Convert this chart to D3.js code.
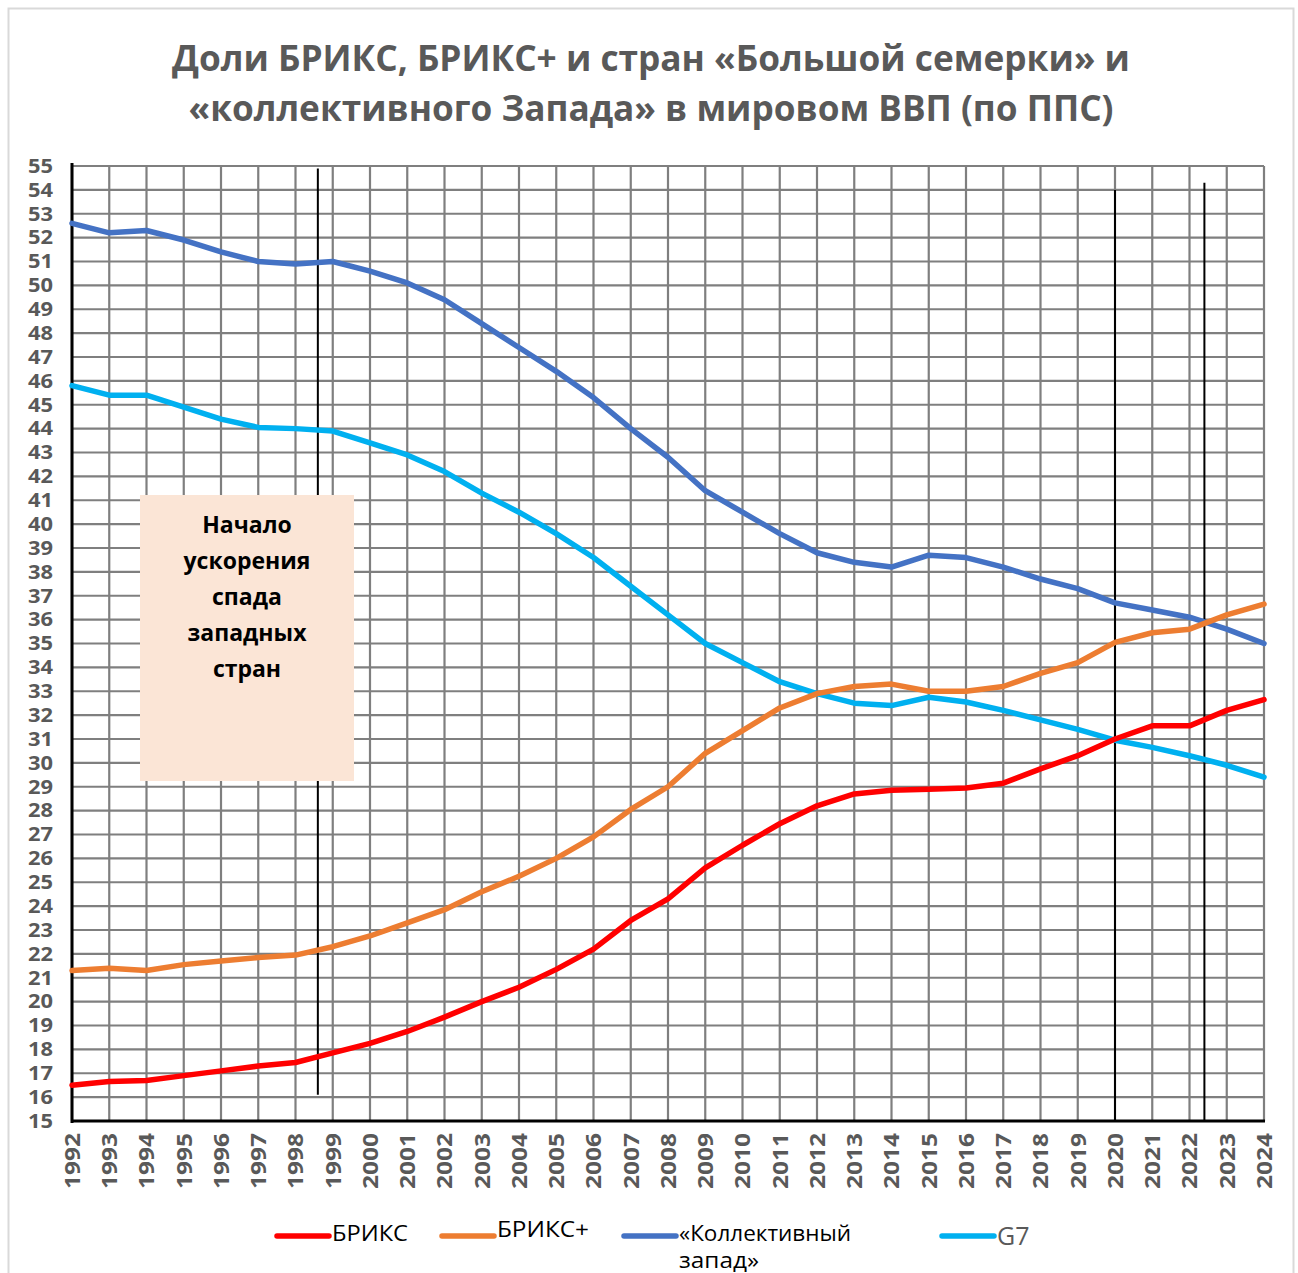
<!DOCTYPE html>
<html>
<head>
<meta charset="utf-8">
<script src="https://cdn.jsdelivr.net/npm/d3@7"></script>
<style>
  body { margin: 0; background: #fff; }
  text { font-family: "Open Sans", "DejaVu Sans", sans-serif; }
</style>
</head>
<body>
<svg id="chart" width="1298" height="1273"></svg>
<script>
// years on x axis
var years = d3.range(1992, 2025);
// shares in world GDP (PPP), %
var bricsVals = [16.5,16.65,16.7,16.9,17.1,17.3,17.45,17.85,18.25,18.75,19.35,20.0,20.6,21.35,22.2,23.4,24.3,25.6,26.55,27.45,28.2,28.7,28.85,28.9,28.95,29.15,29.75,30.3,31.0,31.55,31.55,32.2,32.65];
var bricsPlusVals = [21.3,21.4,21.3,21.55,21.7,21.85,21.95,22.3,22.75,23.3,23.85,24.6,25.25,26.0,26.9,28.05,29.0,30.4,31.35,32.3,32.9,33.2,33.3,33.0,33.0,33.2,33.75,34.2,35.05,35.45,35.6,36.2,36.65];
var westVals = [52.6,52.2,52.3,51.9,51.4,51.0,50.9,51.0,50.6,50.1,49.4,48.4,47.4,46.4,45.3,44.0,42.8,41.4,40.5,39.6,38.8,38.4,38.2,38.7,38.6,38.2,37.7,37.3,36.7,36.4,36.1,35.6,35.0];
var g7Vals = [45.8,45.4,45.4,44.9,44.4,44.05,44.0,43.9,43.4,42.9,42.2,41.3,40.5,39.6,38.6,37.4,36.2,35.0,34.2,33.4,32.9,32.5,32.4,32.75,32.55,32.2,31.8,31.4,30.95,30.65,30.3,29.9,29.4];
var yTicks = d3.range(15, 56);
// marker lines (year positions)
var markYears = [1998.6, 2020.0, 2022.4];

var svg = d3.select("#chart");

// outer frame
svg.append("rect").attr("x", 8.5).attr("y", 8.5).attr("width", 1285).attr("height", 1270)
  .attr("fill", "#fff").attr("stroke", "#d9d9d9").attr("stroke-width", 2);

// title
var title = ["Доли БРИКС, БРИКС+ и стран «Большой семерки» и", "«коллективного  Запада» в мировом ВВП (по ППС)"];
var titleLen = [958, 925];
svg.selectAll(".title").data(title).enter().append("text")
  .attr("class", "title")
  .attr("x", 651).attr("y", function(d, i) { return 71 + i * 50; })
  .attr("text-anchor", "middle")
  .attr("font-size", 35).attr("font-weight", "bold").attr("fill", "#595959")
  .attr("textLength", function(d, i) { return titleLen[i]; })
  .attr("lengthAdjust", "spacingAndGlyphs")
  .text(function(d) { return d; });

var x = d3.scaleLinear().domain([1992, 2024]).range([72, 1264]);
var y = d3.scaleLinear().domain([15, 55]).range([1121, 166]);

// grid
var g = svg.append("g");
g.selectAll(".hg").data(yTicks).enter().append("line")
  .attr("x1", x(1992)).attr("x2", x(2024))
  .attr("y1", function(d) { return y(d); }).attr("y2", function(d) { return y(d); })
  .attr("stroke", "#7f7f7f").attr("stroke-width", 2.2);
g.selectAll(".vg").data(years).enter().append("line")
  .attr("x1", function(d) { return x(d); }).attr("x2", function(d) { return x(d); })
  .attr("y1", y(55)).attr("y2", y(15))
  .attr("stroke", "#7f7f7f").attr("stroke-width", 2.2);

// axis lines
svg.append("line").attr("x1", x(1992)).attr("x2", x(1992)).attr("y1", y(55) - 3).attr("y2", y(15) + 2)
  .attr("stroke", "#000").attr("stroke-width", 3);
svg.append("line").attr("x1", x(1992) - 1).attr("x2", x(2024) + 1).attr("y1", y(15)).attr("y2", y(15))
  .attr("stroke", "#000").attr("stroke-width", 3);

// y labels
svg.selectAll(".yl").data(yTicks).enter().append("text")
  .attr("x", 53).attr("y", function(d) { return y(d); })
  .attr("dy", "0.36em").attr("text-anchor", "end")
  .attr("font-size", 19).attr("font-weight", "bold").attr("fill", "#595959")
  .attr("textLength", 25).attr("lengthAdjust", "spacingAndGlyphs")
  .text(function(d) { return d; });

// x labels
svg.selectAll(".xl").data(years).enter().append("text")
  .attr("transform", function(d) { return "translate(" + x(d) + ",1133) rotate(-90)"; })
  .attr("dy", "0.36em").attr("text-anchor", "end")
  .attr("font-size", 22).attr("font-weight", "bold").attr("fill", "#595959")
  .attr("textLength", 56).attr("lengthAdjust", "spacingAndGlyphs")
  .text(function(d) { return d; });

// vertical marker lines
var markTop = [54.9, 54.0, 54.3];
var markBottom = [16.1, 15, 15];
svg.selectAll(".mk").data(markYears).enter().append("line")
  .attr("x1", function(d) { return x(d); }).attr("x2", function(d) { return x(d); })
  .attr("y1", function(d, i) { return y(markTop[i]); })
  .attr("y2", function(d, i) { return y(markBottom[i]); })
  .attr("stroke", "#000").attr("stroke-width", 2);

// annotation box (covers grid and marker line)
svg.append("rect").attr("x", 140).attr("y", 495).attr("width", 214).attr("height", 286)
  .attr("fill", "#fbe5d6");
var note = ["Начало", "ускорения", "спада", "западных", "стран"];
svg.selectAll(".note").data(note).enter().append("text")
  .attr("x", 247).attr("y", function(d, i) { return 533 + i * 36; })
  .attr("text-anchor", "middle").attr("font-size", 23).attr("font-weight", "bold").attr("fill", "#000")
  .text(function(d) { return d; });

// series
var series = [
  { name: "БРИКС", vals: bricsVals, color: "#ff0000" },
  { name: "БРИКС+", vals: bricsPlusVals, color: "#ed7d31" },
  { name: "«Коллективный запад»", vals: westVals, color: "#4472c4" },
  { name: "G7", vals: g7Vals, color: "#00b0f0" }
];
var line = d3.line()
  .x(function(d, i) { return x(years[i]); })
  .y(function(d) { return y(d); });

// draw order: blue, cyan, orange, red
[2, 3, 1, 0].forEach(function(k) {
  svg.append("path").datum(series[k].vals)
    .attr("d", line).attr("fill", "none")
    .attr("stroke", series[k].color).attr("stroke-width", 5.5)
    .attr("stroke-linejoin", "round").attr("stroke-linecap", "round");
});

// legend
var leg = [
  { x: 277, ty: 1241, text: ["БРИКС"], fill: "#000", size: 22, len: [76] },
  { x: 442, ty: 1237, text: ["БРИКС+"], fill: "#000", size: 22, len: [92] },
  { x: 624, ty: 1241, text: ["«Коллективный", "запад»"], fill: "#000", size: 21, len: [172, 80] },
  { x: 942, ty: 1245, text: ["G7"], fill: "#595959", size: 25, len: [null] }
];
leg.forEach(function(l, k) {
  svg.append("line").attr("x1", l.x).attr("x2", l.x + 52).attr("y1", 1236).attr("y2", 1236)
    .attr("stroke", series[k].color).attr("stroke-width", 5.5).attr("stroke-linecap", "round");
  l.text.forEach(function(t, j) {
    var tx = svg.append("text").attr("x", l.x + 55).attr("y", l.ty + j * 27)
      .attr("font-family", k == 3 ? "'Open Sans', sans-serif" : "'Liberation Sans', Arial, sans-serif")
      .attr("font-size", l.size).attr("fill", l.fill)
      .text(t);
    if (l.len[j]) tx.attr("textLength", l.len[j]).attr("lengthAdjust", "spacingAndGlyphs");
  });
});
</script>
</body>
</html>
